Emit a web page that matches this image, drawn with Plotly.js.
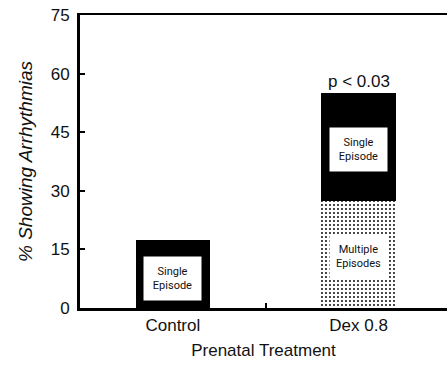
<!DOCTYPE html>
<html>
<head>
<meta charset="utf-8">
<script src="https://cdn.plot.ly/plotly-3.0.1.min.js"></script>
<style>html,body{margin:0;padding:0;background:#fff;overflow:hidden}#chart{width:447px;height:365px}</style>
</head>
<body>
<div id="chart"></div>
<script>
// Data
var categories = ["Control", "Dex 0.8"];
var singleEpisode = [17.4, 27.7];
var multipleEpisodes = [0, 27.3];
var totals = [17.4, 55.0];
var yTicks = [0, 15, 30, 45, 60, 75];
var segmentLabels = ["Single<br>Episode", "Single<br>Episode", "Multiple<br>Episodes"];
var labelCategories = ["Control", "Dex 0.8", "Dex 0.8"];
var labelValues = [7.6, 40.7, 13.3];
var significance = "p < 0.03";

var mainFont = "Liberation Sans, Arial, sans-serif";
var narrowFont = "Liberation Sans Narrow, Arial Narrow, Roboto, sans-serif";

var traces = [
  {
    type: "bar", x: categories, y: multipleEpisodes, name: "Multiple Episodes",
    width: 0.4,
    marker: {color: "#ffffff", line: {width: 0},
      pattern: {shape: ".", fgcolor: "#000000", bgcolor: "#ffffff", size: 4, solidity: 0.18}},
    hoverinfo: "skip"
  },
  {
    type: "bar", x: categories, y: singleEpisode, name: "Single Episode",
    width: 0.4,
    marker: {color: "#000000", line: {width: 0}},
    hoverinfo: "skip"
  }
];

var annotations = [];
for (var i = 0; i < segmentLabels.length; i++) {
  annotations.push({
    x: labelCategories[i], y: labelValues[i], xref: "x", yref: "y",
    text: segmentLabels[i], showarrow: false,
    font: {family: narrowFont, size: 11, color: "#111"},
    bgcolor: "#ffffff", width: 57, height: 43, borderpad: 0,
    xanchor: "center", yanchor: "middle"
  });
}
annotations.push({
  x: categories[1], y: totals[1], xref: "x", yref: "y",
  text: significance, showarrow: false, yanchor: "bottom", yshift: 0,
  font: {family: mainFont, size: 17, color: "#111"}
});

var layout = {
  width: 447, height: 365,
  margin: {l: 80, r: 0, t: 15, b: 57},
  paper_bgcolor: "#ffffff", plot_bgcolor: "#ffffff",
  barmode: "stack",
  showlegend: false,
  font: {family: mainFont, size: 17, color: "#111"},
  xaxis: {
    type: "category", range: [-0.5, 1.476],
    showline: true, linecolor: "#000", linewidth: 2.5, mirror: true,
    ticks: "inside", tickson: "boundaries", ticklen: 5, tickwidth: 2, tickcolor: "#000",
    showgrid: false, zeroline: false,
    tickfont: {family: mainFont, size: 17, color: "#111"},
    title: {text: "Prenatal Treatment", font: {family: mainFont, size: 17, color: "#111"}, standoff: 10}
  },
  yaxis: {
    range: [0, 75], tickvals: yTicks, ticktext: yTicks.map(String),
    showline: true, linecolor: "#000", linewidth: 3,
    ticks: "inside", ticklen: 5, tickwidth: 2, tickcolor: "#000",
    ticklabelstandoff: 4,
    showgrid: false, zeroline: false,
    tickfont: {family: mainFont, size: 17, color: "#111"},
    title: {text: "% Showing Arrhythmias", font: {family: mainFont, size: 19, color: "#111", style: "italic"}, standoff: 14}
  },
  annotations: annotations
};

Plotly.newPlot("chart", traces, layout, {displayModeBar: false, staticPlot: true});
</script>
</body>
</html>
